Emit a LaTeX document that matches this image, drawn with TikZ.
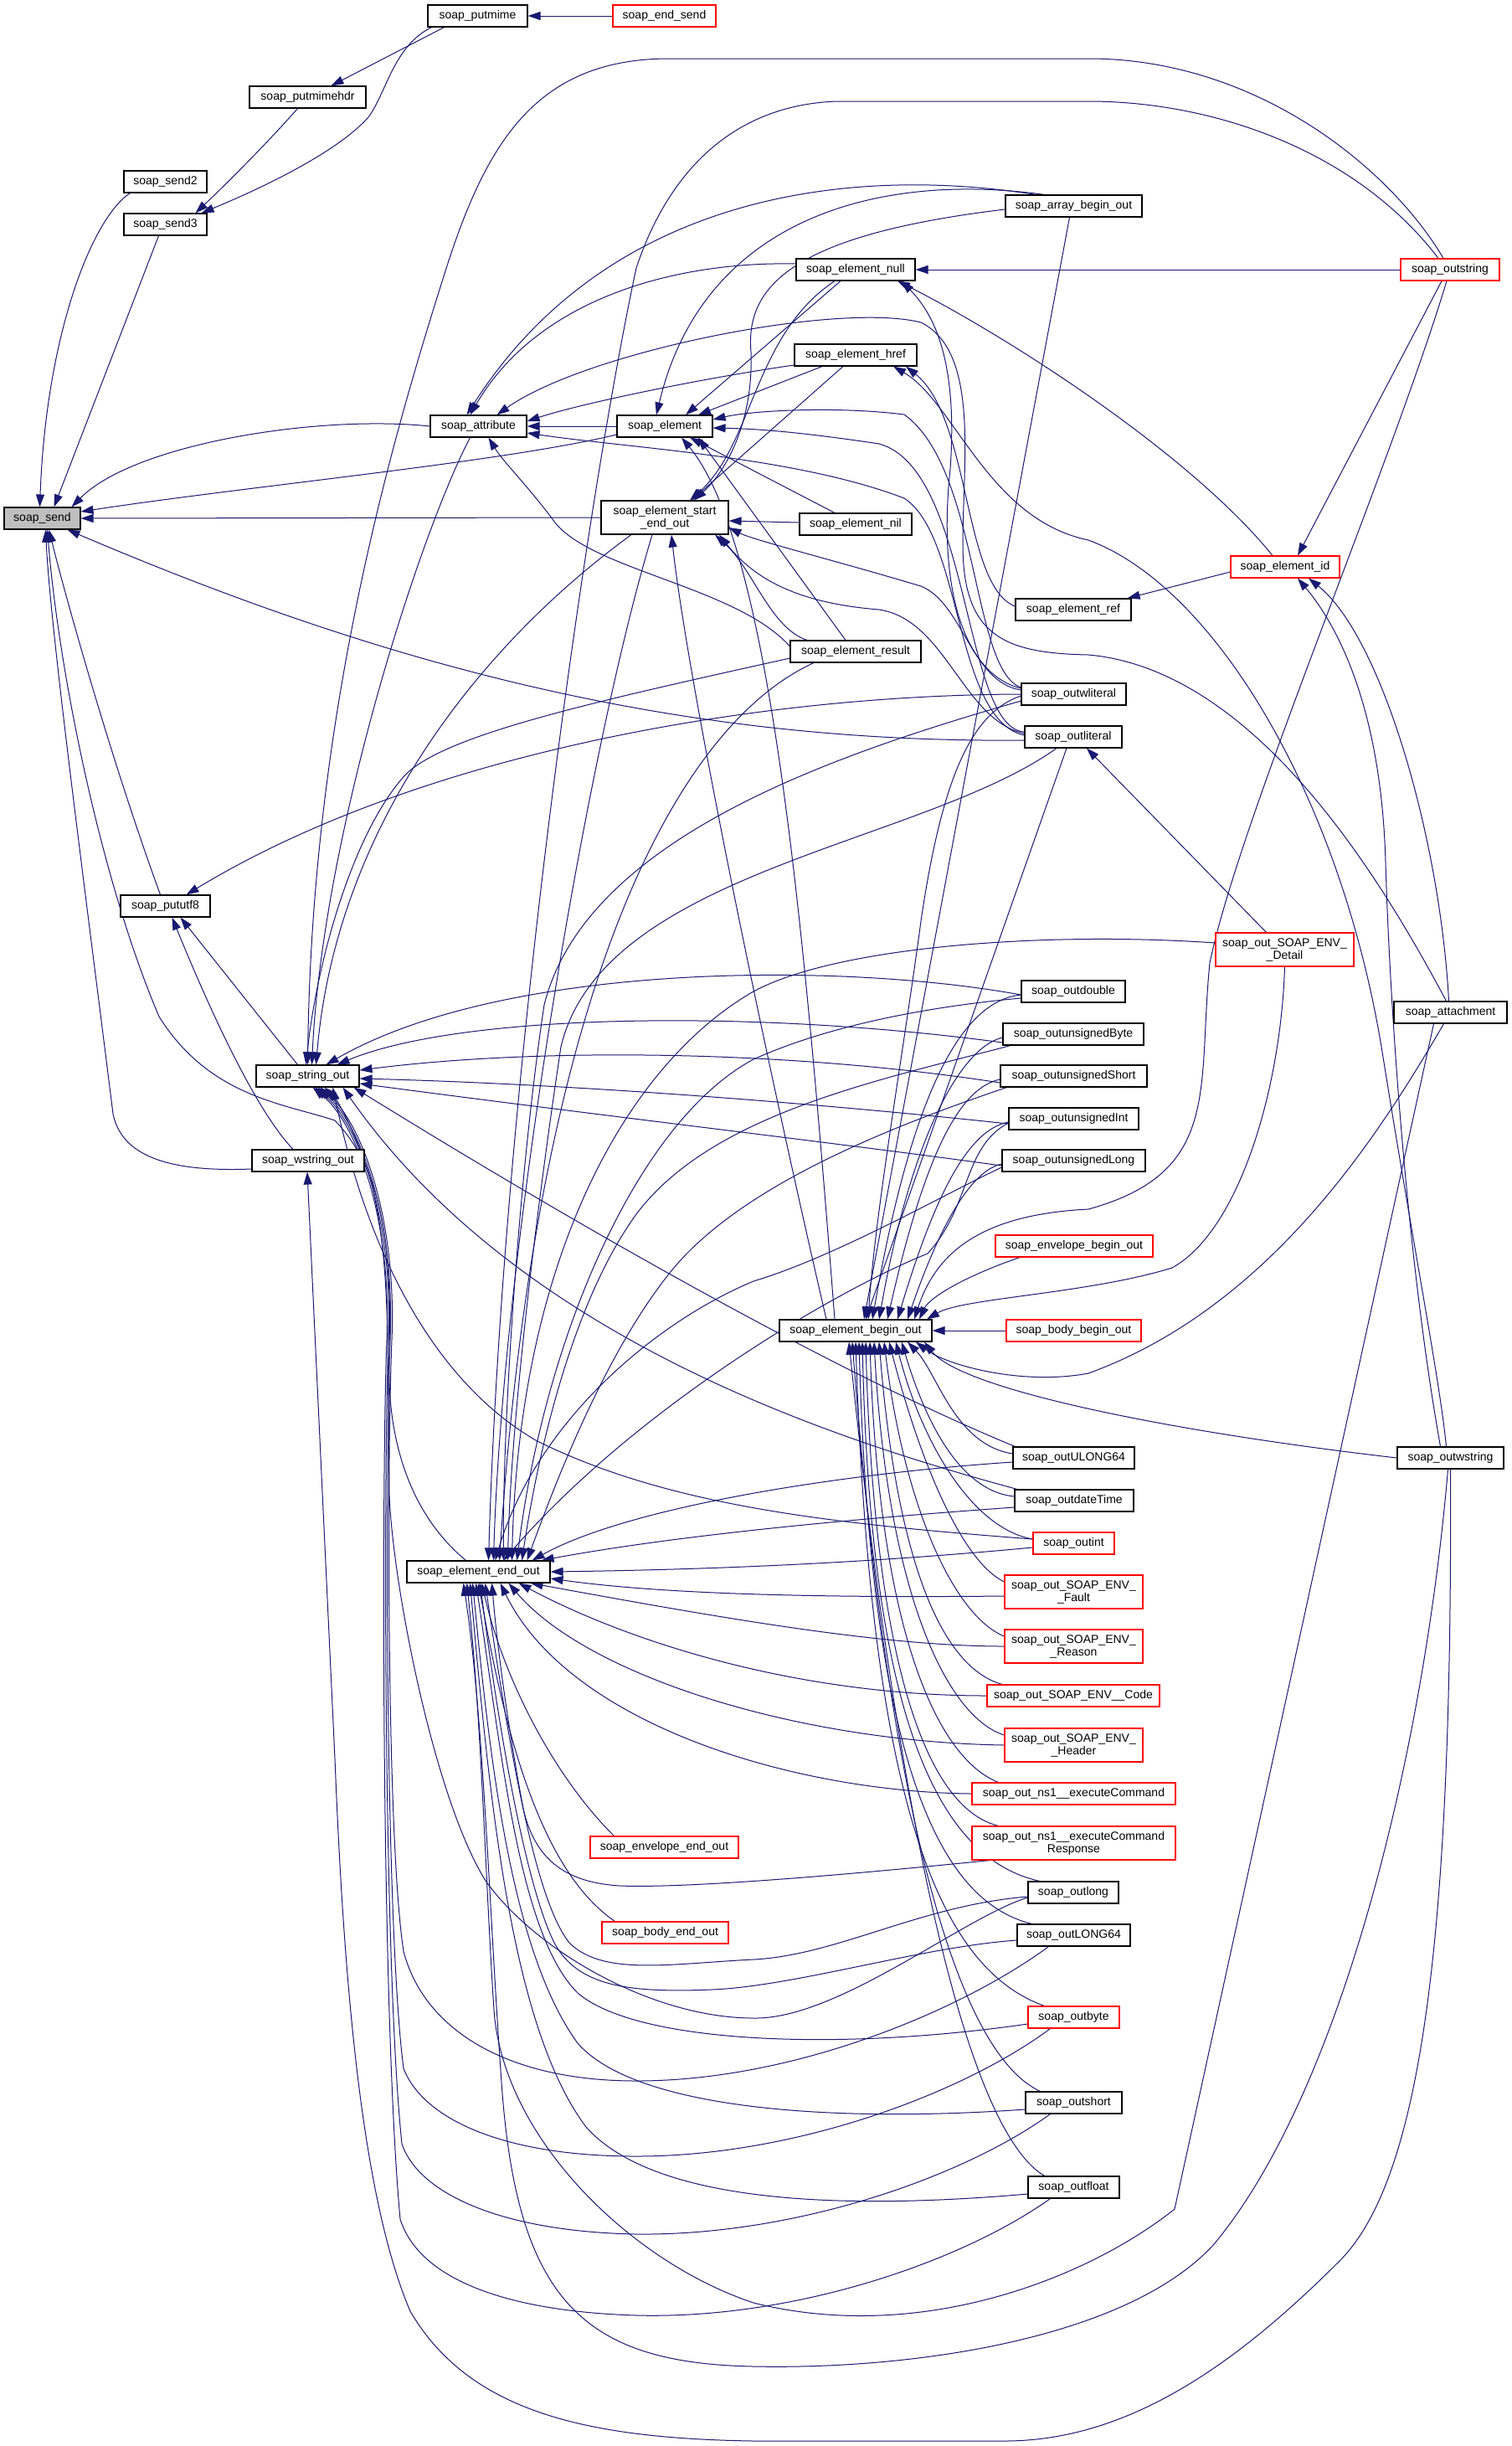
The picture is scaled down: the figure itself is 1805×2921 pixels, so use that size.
\documentclass[tikz,border=0pt]{standalone}
\usepackage{fontspec}
\setmainfont{Liberation Sans}
\usetikzlibrary{arrows.meta}
\definecolor{edgec}{HTML}{191970}
\definecolor{nodegray}{HTML}{BFBFBF}
\pgfdeclarelayer{back}
\pgfdeclarelayer{bg}
\pgfsetlayers{back,bg,main}
\tikzset{
  bx/.style={draw=black, line width=1.1pt, fill=white, rectangle, inner sep=0pt, minimum height=26pt, font=\fontsize{14}{15}\selectfont, align=center},
  bxr/.style={bx, draw=red},
  call/.style={draw=edgec, line width=1pt, -{Triangle[length=15pt,width=10pt]}}
}
\begin{document}
\begin{tikzpicture}[x=1pt,y=-1pt]
\begin{pgfonlayer}{back}
\fill[white] (0,0) rectangle (1805,2921);
\end{pgfonlayer}
\useasboundingbox (0,0) rectangle (1805,2921);

% ---------------- nodes ----------------
\node[bx,fill=nodegray,minimum width=91pt] (send) at (50.5,619) {soap\_send};
\node[bx,minimum width=99pt] (send2) at (197.5,217) {soap\_send2};
\node[bx,minimum width=99pt] (send3) at (197.5,268) {soap\_send3};
\node[bx,minimum width=107pt] (pututf8) at (197.5,1082) {soap\_pututf8};
\node[bx,minimum width=139pt] (putmimehdr) at (367.5,116) {soap\_putmimehdr};
\node[bx,minimum width=123pt] (stringout) at (367.5,1285) {soap\_string\_out};
\node[bx,minimum width=134pt] (wstringout) at (368,1386) {soap\_wstring\_out};
\node[bx,minimum width=119pt] (putmime) at (570.5,19) {soap\_putmime};
\node[bx,minimum width=115pt] (attribute) at (571.5,509) {soap\_attribute};
\node[bx,minimum width=171pt] (endout) at (571.5,1877) {soap\_element\_end\_out};
\node[bxr,minimum width=123pt] (endsend) at (793.5,19) {soap\_end\_send};
\node[bx,minimum width=114pt] (element) at (794,509) {soap\_element};
\node[bx,minimum width=152pt,minimum height=40pt] (startend) at (794,618) {soap\_element\_start\\\_end\_out};
\node[bxr,minimum width=177pt] (envend) at (793.5,2206) {soap\_envelope\_end\_out};
\node[bxr,minimum width=151pt] (bodyend) at (794.5,2308) {soap\_body\_end\_out};
\node[bx,minimum width=142pt] (null) at (1022,322) {soap\_element\_null};
\node[bx,minimum width=146pt] (href) at (1022,424) {soap\_element\_href};
\node[bx,minimum width=134pt] (nil) at (1022,626) {soap\_element\_nil};
\node[bx,minimum width=156pt] (result) at (1022,778) {soap\_element\_result};
\node[bx,minimum width=182pt] (beginout) at (1022,1589) {soap\_element\_begin\_out};
\node[bx,minimum width=163pt] (array) at (1282.5,246) {soap\_array\_begin\_out};
\node[bx,minimum width=138pt] (ref) at (1282,728) {soap\_element\_ref};
\node[bx,minimum width=125pt] (outwlit) at (1282.5,829) {soap\_outwliteral};
\node[bx,minimum width=116pt] (outlit) at (1282,880) {soap\_outliteral};
\node[bx,minimum width=124pt] (outdouble) at (1282,1184) {soap\_outdouble};
\node[bx,minimum width=168pt] (ubyte) at (1282,1235) {soap\_outunsignedByte};
\node[bx,minimum width=175pt] (ushort) at (1282.5,1285) {soap\_outunsignedShort};
\node[bx,minimum width=155pt] (uint) at (1282.5,1336) {soap\_outunsignedInt};
\node[bx,minimum width=171pt] (ulong) at (1282.5,1386) {soap\_outunsignedLong};
\node[bxr,minimum width=188pt] (envbegin) at (1283,1488) {soap\_envelope\_begin\_out};
\node[bxr,minimum width=161pt] (bodybegin) at (1282.5,1589) {soap\_body\_begin\_out};
\node[bx,minimum width=145pt] (ulong64) at (1282.5,1741) {soap\_outULONG64};
\node[bx,minimum width=142pt] (datetime) at (1283,1792) {soap\_outdateTime};
\node[bxr,minimum width=97pt] (outint) at (1282.5,1843) {soap\_outint};
\node[bxr,minimum width=165pt,minimum height=40pt] (fault) at (1282.5,1901) {soap\_out\_SOAP\_ENV\_\\\_Fault};
\node[bxr,minimum width=165pt,minimum height=40pt] (reason) at (1282.5,1966) {soap\_out\_SOAP\_ENV\_\\\_Reason};
\node[bxr,minimum width=206pt] (code) at (1282,2025) {soap\_out\_SOAP\_ENV\_\_Code};
\node[bxr,minimum width=165pt,minimum height=40pt] (header) at (1282.5,2084) {soap\_out\_SOAP\_ENV\_\\\_Header};
\node[bxr,minimum width=243pt] (nsexec) at (1282.5,2142) {soap\_out\_ns1\_\_executeCommand};
\node[bxr,minimum width=243pt,minimum height=40pt] (nsresp) at (1282.5,2201) {soap\_out\_ns1\_\_executeCommand\\Response};
\node[bx,minimum width=108pt] (outlong) at (1282,2260) {soap\_outlong};
\node[bx,minimum width=135pt] (outLONG64) at (1282.5,2311) {soap\_outLONG64};
\node[bxr,minimum width=109pt] (outbyte) at (1282.5,2409) {soap\_outbyte};
\node[bx,minimum width=115pt] (outshort) at (1282.5,2511) {soap\_outshort};
\node[bx,minimum width=109pt] (outfloat) at (1282.5,2612) {soap\_outfloat};
\node[bxr,minimum width=130pt] (elemid) at (1535,677) {soap\_element\_id};
\node[bxr,minimum width=165pt,minimum height=40pt] (detail) at (1534.5,1134) {soap\_out\_SOAP\_ENV\_\\\_Detail};
\node[bxr,minimum width=118pt] (outstring) at (1732,322) {soap\_outstring};
\node[bx,minimum width=135pt] (attachment) at (1732.5,1209) {soap\_attachment};
\node[bx,minimum width=127pt] (outwstring) at (1732.5,1741) {soap\_outwstring};

% ---------------- edges ----------------
\begin{pgfonlayer}{bg}
% top group
\draw[call] (endsend.west) -- (putmime.east);
\draw[call] ([xshift=-40pt]putmime.south) -- ([xshift=28pt]putmimehdr.north);
\draw[call] ([xshift=-55pt]putmime.south) .. controls (470,55) and (462,110) .. (440,140) .. controls (400,185) and (300,230) .. ([xshift=43pt]send3.north);
\draw[call] ([xshift=-12pt]putmimehdr.south) .. controls (320,170) and (270,220) .. ([xshift=36pt]send3.north);
\draw[call] ([xshift=-42pt]send2.south) .. controls (110,260) and (55,400) .. ([xshift=-3pt]send.north);
\draw[call] ([xshift=-8pt]send3.south) -- ([xshift=14pt]send.north);

% into soap_send
\draw[call] (attribute.west) .. controls (380,495) and (160,530) .. ([xshift=35pt]send.north);
\draw[call] ([yshift=-10pt]element.west) .. controls (600,552) and (300,580) .. ([yshift=8pt]send.east);
\draw[call] (startend.west) -- (send.east);
\draw[call] ([xshift=-6pt]pututf8.north) .. controls (130,900) and (75,700) .. ([xshift=8pt]send.south);
\draw[call] ([yshift=-10pt]wstringout.west) .. controls (200,1400) and (145,1380) .. (135,1330) .. controls (100,1050) and (60,750) .. ([xshift=4pt]send.south);
\draw[call] ([yshift=-4pt]outlit.west) .. controls (800,888) and (450,790) .. ([xshift=30pt]send.south);
\draw[call] ([xshift=-15pt]endout.north) .. controls (480,1800) and (462,1700) .. (465,1620) .. controls (468,1500) and (460,1400) .. (400,1338) .. controls (340,1318) and (250,1310) .. (190,1214) .. controls (120,1050) and (70,800) .. ([xshift=6pt]send.south);

% into soap_pututf8
\draw[call] ([xshift=-12pt]stringout.north) -- ([xshift=18pt]pututf8.south);
\draw[call] ([xshift=-18pt]wstringout.north) .. controls (300,1320) and (240,1180) .. ([xshift=8pt]pututf8.south);
\draw[call] (outwlit.west) .. controls (900,830) and (500,900) .. ([xshift=25pt]pututf8.north);

% into soap_string_out
\draw[call] ([xshift=-8pt]outstring.north) .. controls (1660,200) and (1500,70) .. (1300,70) -- (800,70) .. controls (640,70) and (580,170) .. (530,330) .. controls (470,520) and (372,850) .. (stringout.north);
\draw[call] ([xshift=-10pt]attribute.south) .. controls (500,640) and (385,1000) .. ([xshift=5pt]stringout.north);
\draw[call] ([xshift=-40pt]startend.south) .. controls (560,780) and (400,1000) .. ([xshift=10pt]stringout.north);
\draw[call] ([yshift=-8pt]result.west) .. controls (700,840) and (520,880) .. (480,930) .. controls (420,1000) and (378,1150) .. ([xshift=-2pt]stringout.north);
\draw[call] ([yshift=-4pt]outdouble.west) .. controls (1000,1148) and (600,1150) .. ([xshift=22pt]stringout.north);
\draw[call] ([yshift=-10pt]ubyte.west) .. controls (900,1205) and (550,1210) .. ([xshift=35pt]stringout.north);
\draw[call] ([yshift=-8pt]ushort.west) .. controls (950,1255) and (650,1250) .. ([yshift=7pt]stringout.east);
\draw[call] ([yshift=-6pt]uint.west) .. controls (1000,1320) and (700,1295) .. ([yshift=-3pt]stringout.east);
\draw[call] ([yshift=-6pt]ulong.west) .. controls (1000,1365) and (700,1330) .. ([yshift=-9pt]stringout.east);
\draw[call] ([xshift=-70pt]ulong64.north) .. controls (1000,1640) and (700,1470) .. ([xshift=55pt]stringout.south);
\draw[call] ([xshift=-68pt]datetime.north) .. controls (1000,1720) and (620,1600) .. ([xshift=42pt]stringout.south);
\draw[call] ([yshift=5pt]outint.west) .. controls (1000,1820) and (800,1800) .. (640,1720) .. controls (520,1650) and (440,1500) .. ([xshift=30pt]stringout.south);
\draw[call] ([yshift=-6pt]outlong.west) .. controls (1150,2290) and (1000,2412) .. (900,2410) .. controls (780,2410) and (640,2330) .. (580,2246) .. controls (520,2150) and (470,1900) .. (465,1786) .. controls (462,1650) and (470,1500) .. (440,1400) .. controls (420,1340) and (400,1310) .. ([xshift=20pt]stringout.south);
\draw[call] ([xshift=-30pt]outLONG64.south) .. controls (1150,2400) and (950,2485) .. (760,2485) .. controls (600,2485) and (505,2420) .. (482,2330) .. controls (462,2200) and (462,1750) .. (468,1600) .. controls (474,1450) and (430,1340) .. ([xshift=15pt]stringout.south);
\draw[call] ([xshift=-28pt]outbyte.south) .. controls (1150,2500) and (950,2575) .. (760,2575) .. controls (600,2575) and (505,2530) .. (482,2470) .. controls (460,2300) and (460,1750) .. (466,1600) .. controls (472,1450) and (428,1340) .. ([xshift=12pt]stringout.south);
\draw[call] ([xshift=-28pt]outshort.south) .. controls (1150,2600) and (950,2670) .. (760,2668) .. controls (600,2665) and (500,2620) .. (480,2560) .. controls (458,2350) and (458,1750) .. (464,1600) .. controls (470,1450) and (426,1340) .. ([xshift=9pt]stringout.south);
\draw[call] ([xshift=-28pt]outfloat.south) .. controls (1150,2700) and (950,2770) .. (760,2765) .. controls (600,2760) and (500,2720) .. (478,2650) .. controls (455,2400) and (456,1750) .. (462,1600) .. controls (468,1450) and (424,1340) .. ([xshift=6pt]stringout.south);

% into soap_wstring_out
\draw[call] (outwstring.south) .. controls (1735,2300) and (1700,2600) .. (1600,2700) .. controls (1480,2820) and (1350,2915) .. (1200,2915) -- (900,2915) .. controls (700,2912) and (560,2880) .. (490,2760) .. controls (430,2620) and (410,2350) .. (400,2100) -- ([xshift=-1pt]wstringout.south);

% into soap_attribute
\draw[call] (element.west) -- (attribute.east);
\draw[call] ([yshift=7pt]null.west) .. controls (800,312) and (640,360) .. ([xshift=-10pt]attribute.north);
\draw[call] ([xshift=-45pt]array.north) .. controls (1000,195) and (720,240) .. ([xshift=-14pt]attribute.north);
\draw[call] ([yshift=-12pt]href.west) .. controls (850,450) and (700,480) .. ([yshift=6pt]attribute.east);
\draw[call] ([xshift=-5pt]attachment.north) .. controls (1650,1050) and (1500,800) .. (1300,782) .. controls (1200,780) and (1150,760) .. (1150,650) .. controls (1150,550) and (1170,420) .. (1100,385) .. controls (1000,360) and (700,420) .. ([xshift=22pt]attribute.north);
\draw[call] ([yshift=2pt]outlit.west) .. controls (1140,860) and (1150,640) .. (1080,595) .. controls (950,545) and (750,535) .. ([yshift=-8pt]attribute.east);
\draw[call] ([yshift=6pt]result.west) .. controls (880,700) and (700,680) .. (660,620) .. controls (630,580) and (600,550) .. ([xshift=12pt]attribute.south);

% into soap_element
\draw[call] ([xshift=-35pt]array.north) .. controls (1050,205) and (840,260) .. ([xshift=-10pt]element.north);
\draw[call] ([xshift=-18pt]null.south) -- ([xshift=25pt]element.north);
\draw[call] ([xshift=-40pt]href.south) -- ([xshift=40pt]element.north);
\draw[call] ([xshift=-25pt]nil.north) -- ([xshift=30pt]element.south);
\draw[call] ([xshift=-12pt]result.north) -- ([xshift=40pt]element.south);
\draw[call] ([yshift=8pt]outwlit.west) .. controls (1160,800) and (1170,560) .. (1080,495) .. controls (1000,485) and (900,490) .. ([yshift=8pt]element.east);
\draw[call] ([yshift=6pt]outlit.west) .. controls (1150,870) and (1160,560) .. (1050,530) .. controls (950,515) and (900,512) .. ([yshift=-2pt]element.east);
\draw[call] ([xshift=-25pt]beginout.north) .. controls (960,1100) and (920,650) .. ([xshift=20pt]element.south);

% into soap_element_start_end_out
\draw[call] ([xshift=-25pt]null.south) .. controls (900,400) and (900,530) .. ([xshift=30pt]startend.north);
\draw[call] ([yshift=-4pt]array.west) .. controls (950,280) and (890,340) .. (897,420) .. controls (900,500) and (870,560) .. ([xshift=35pt]startend.north);
\draw[call] ([xshift=-15pt]href.south) -- ([xshift=32pt]startend.north);
\draw[call] ([yshift=2pt]nil.west) -- ([yshift=-4pt]startend.east);
\draw[call] ([xshift=-58pt]result.north) .. controls (920,750) and (900,680) .. ([xshift=60pt]startend.south);
\draw[call] ([yshift=5pt]outwlit.west) .. controls (1160,815) and (1150,720) .. (1100,700) .. controls (1000,670) and (900,645) .. ([yshift=-12pt]startend.east);
\draw[call] ([yshift=4pt]outlit.west) .. controls (1150,860) and (1130,740) .. (1050,728) .. controls (950,720) and (900,690) .. ([xshift=65pt]startend.south);
\draw[call] ([xshift=-35pt]beginout.north) .. controls (900,1200) and (820,800) .. ([xshift=8pt]startend.south);

% element_null / href / id / ref
\draw[call] ([xshift=-15pt]elemid.north) .. controls (1420,540) and (1200,400) .. ([xshift=50pt]null.south);
\draw[call] (outstring.west) -- (null.east);
\draw[call] ([yshift=7pt]outwlit.west) .. controls (1150,805) and (1120,700) .. (1135,560) .. controls (1145,420) and (1110,370) .. ([xshift=55pt]null.south);
\draw[call] ([yshift=-6pt]elemid.west) -- ([xshift=-5pt]ref.north east);
\draw[call] ([yshift=4pt]ref.west) .. controls (1150,700) and (1160,500) .. ([xshift=60pt]href.south);
\draw[call] ([xshift=-5pt]outwstring.north) .. controls (1720,1650) and (1690,1500) .. (1650,1250) .. controls (1600,950) and (1450,700) .. (1300,645) .. controls (1180,620) and (1140,480) .. ([xshift=45pt]href.south);
\draw[call] ([xshift=-12pt]outwstring.north) .. controls (1680,1500) and (1660,1200) .. (1655,1030) .. controls (1650,850) and (1600,750) .. ([xshift=15pt]elemid.south);
\draw[call] ([xshift=-2pt]attachment.north) .. controls (1720,1000) and (1650,760) .. ([xshift=28pt]elemid.south);
\draw[call] ([xshift=-10pt]outstring.south) -- ([xshift=15pt]elemid.north);
\draw[call] ([xshift=-22pt]detail.north) -- ([xshift=16pt]outlit.south);

% into soap_element_begin_out
\draw[call] ([xshift=-5pt]array.south) -- ([xshift=10pt]beginout.north);
\draw[call] ([yshift=-2pt]outwlit.west) .. controls (1160,851) and (1125,930) .. (1100,1100) .. controls (1080,1250) and (1045,1450) .. ([xshift=15pt]beginout.north);
\draw[call] ([xshift=-8pt]outlit.south) -- ([xshift=12pt]beginout.north);
\draw[call] ([yshift=-4pt]outdouble.west) .. controls (1150,1195) and (1090,1300) .. ([xshift=20pt]beginout.north);
\draw[call] ([yshift=-4pt]ubyte.west) .. controls (1150,1250) and (1090,1350) .. ([xshift=28pt]beginout.north);
\draw[call] ([yshift=-4pt]ushort.west) .. controls (1140,1300) and (1100,1400) .. ([xshift=38pt]beginout.north);
\draw[call] ([yshift=-4pt]uint.west) .. controls (1150,1350) and (1110,1450) .. ([xshift=50pt]beginout.north);
\draw[call] ([yshift=-4pt]ulong.west) .. controls (1150,1400) and (1110,1500) .. ([xshift=62pt]beginout.north);
\draw[call] ([xshift=-65pt]envbegin.south) .. controls (1150,1525) and (1110,1550) .. ([xshift=76pt]beginout.north);
\draw[call] (bodybegin.west) -- (beginout.east);
\draw[call] ([xshift=-4pt]outstring.south) .. controls (1660,560) and (1480,980) .. (1445,1150) .. controls (1430,1300) and (1460,1400) .. (1300,1444) .. controls (1180,1450) and (1120,1490) .. ([xshift=70pt]beginout.north);
\draw[call] (detail.south) .. controls (1530,1300) and (1480,1470) .. (1400,1514) .. controls (1300,1545) and (1150,1550) .. ([xshift=85pt]beginout.north);
\draw[call] ([xshift=-8pt]attachment.south) .. controls (1650,1350) and (1520,1560) .. (1300,1640) .. controls (1220,1655) and (1130,1630) .. ([xshift=72pt]beginout.south);
\draw[call] (outwstring.west) .. controls (1400,1710) and (1150,1660) .. ([xshift=82pt]beginout.south);
\draw[call] ([yshift=5pt]ulong64.west) .. controls (1140,1725) and (1120,1640) .. ([xshift=62pt]beginout.south);
\draw[call] ([yshift=5pt]datetime.west) .. controls (1140,1780) and (1100,1680) .. ([xshift=55pt]beginout.south);
\draw[call] ([yshift=5pt]outint.west) .. controls (1160,1825) and (1100,1720) .. ([xshift=48pt]beginout.south);
\draw[call] ([yshift=12pt]fault.west) .. controls (1150,1865) and (1100,1750) .. ([xshift=40pt]beginout.south);
\draw[call] ([yshift=12pt]reason.west) .. controls (1140,1930) and (1080,1800) .. ([xshift=34pt]beginout.south);
\draw[call] ([xshift=-85pt]code.north) .. controls (1120,1990) and (1070,1850) .. ([xshift=28pt]beginout.south);
\draw[call] ([yshift=12pt]header.west) .. controls (1130,2050) and (1060,1900) .. ([xshift=22pt]beginout.south);
\draw[call] ([xshift=-90pt]nsexec.north) .. controls (1120,2100) and (1050,1950) .. ([xshift=17pt]beginout.south);
\draw[call] ([xshift=-90pt]nsresp.north) .. controls (1110,2160) and (1045,2000) .. ([xshift=12pt]beginout.south);
\draw[call] ([xshift=-40pt]outlong.north) .. controls (1120,2220) and (1040,2050) .. ([xshift=8pt]beginout.south);
\draw[call] ([xshift=-50pt]outLONG64.north) .. controls (1120,2270) and (1040,2100) .. ([xshift=4pt]beginout.south);
\draw[call] ([xshift=-35pt]outbyte.north) .. controls (1120,2350) and (1040,2150) .. ([xshift=0pt]beginout.south);
\draw[call] ([xshift=-40pt]outshort.north) .. controls (1140,2450) and (1060,2150) .. ([xshift=-4pt]beginout.south);
\draw[call] ([xshift=-35pt]outfloat.north) .. controls (1150,2540) and (1070,2150) .. ([xshift=-8pt]beginout.south);

% into soap_element_end_out (from above)
\draw[call] ([xshift=-14pt]outstring.north) .. controls (1620,180) and (1450,121) .. (1300,121) -- (1000,121) .. controls (880,125) and (800,200) .. (760,320) .. controls (700,600) and (600,1300) .. ([xshift=12pt]endout.north);
\draw[call] ([xshift=-15pt]startend.south) .. controls (700,900) and (600,1500) .. ([xshift=18pt]endout.north);
\draw[call] ([xshift=-50pt]result.south) .. controls (800,870) and (640,1200) .. ([xshift=25pt]endout.north);
\draw[call] ([yshift=-8pt]outwlit.west) .. controls (1000,900) and (700,1000) .. (650,1200) .. controls (620,1400) and (600,1700) .. ([xshift=30pt]endout.north);
\draw[call] ([xshift=-20pt]outlit.south) .. controls (1100,1009) and (720,1040) .. (670,1250) .. controls (640,1450) and (610,1700) .. ([xshift=35pt]endout.north);
\draw[call] ([yshift=8pt]detail.west) .. controls (1250,1112) and (1000,1130) .. (900,1184) .. controls (750,1270) and (620,1500) .. ([xshift=40pt]endout.north);
\draw[call] ([yshift=-8pt]outdouble.west) .. controls (1130,1200) and (1000,1220) .. (900,1265) .. controls (760,1340) and (650,1600) .. ([xshift=46pt]endout.north);
\draw[call] ([xshift=-75pt]ubyte.south) .. controls (1050,1290) and (850,1330) .. (760,1450) .. controls (680,1560) and (640,1750) .. ([xshift=52pt]endout.north);
\draw[call] ([xshift=-80pt]ushort.south) .. controls (1050,1350) and (880,1420) .. (800,1520) .. controls (720,1620) and (660,1780) .. ([xshift=58pt]endout.north);
\draw[call] ([yshift=-5pt]uint.west) .. controls (1150,1370) and (1160,1440) .. (1108,1497) .. controls (1000,1540) and (760,1680) .. ([xshift=30pt]endout.north);
\draw[call] ([yshift=-8pt]ulong.west) .. controls (1130,1425) and (1000,1500) .. (900,1530) .. controls (780,1580) and (640,1700) .. ([xshift=20pt]endout.north);
% into soap_element_end_out (from the right)
\draw[call] ([yshift=-5pt]ulong64.west) .. controls (1000,1760) and (750,1800) .. ([xshift=64pt]endout.north);
\draw[call] ([yshift=-8pt]datetime.west) .. controls (1000,1815) and (800,1835) .. ([xshift=75pt]endout.north);
\draw[call] ([yshift=-5pt]outint.west) .. controls (1000,1870) and (800,1875) .. (endout.east);
\draw[call] ([yshift=-5pt]fault.west) .. controls (1000,1908) and (800,1905) .. ([yshift=-8pt]endout.east);
\draw[call] (reason.west) .. controls (1050,1966) and (850,1930) .. ([xshift=62pt]endout.south);
\draw[call] (code.west) .. controls (950,2025) and (750,1960) .. ([xshift=48pt]endout.south);
\draw[call] (header.west) .. controls (950,2080) and (700,2000) .. ([xshift=36pt]endout.south);
\draw[call] (nsexec.west) .. controls (950,2140) and (680,2060) .. ([xshift=26pt]endout.south);
\draw[call] ([xshift=-100pt]nsresp.south) .. controls (1000,2240) and (820,2255) .. (740,2252) .. controls (680,2248) and (640,2225) .. (625,2160) .. controls (610,2080) and (595,1980) .. ([xshift=16pt]endout.south);
% into soap_element_end_out (from below)
\draw[call] ([yshift=-5pt]outlong.west) .. controls (1100,2275) and (1000,2335) .. (900,2340) .. controls (800,2345) and (720,2360) .. (680,2320) .. controls (640,2270) and (610,2100) .. ([xshift=8pt]endout.south);
\draw[call] ([yshift=-6pt]outLONG64.west) .. controls (1100,2325) and (950,2372) .. (850,2376) .. controls (750,2380) and (690,2372) .. (662,2320) .. controls (632,2260) and (600,2100) .. ([xshift=2pt]endout.south);
\draw[call] ([yshift=-8pt]outbyte.west) .. controls (1000,2450) and (760,2440) .. (690,2380) .. controls (620,2310) and (600,2100) .. ([xshift=-3pt]endout.south);
\draw[call] ([yshift=-8pt]outshort.west) .. controls (1000,2535) and (760,2520) .. (690,2440) .. controls (610,2330) and (585,2100) .. ([xshift=-7pt]endout.south);
\draw[call] ([yshift=-8pt]outfloat.west) .. controls (1000,2640) and (780,2630) .. (700,2540) .. controls (610,2420) and (585,2150) .. ([xshift=-10pt]endout.south);
\draw[call] ([xshift=-60pt]envend.north) .. controls (660,2120) and (600,2000) .. ([xshift=4pt]endout.south);
\draw[call] ([xshift=-60pt]bodyend.north) .. controls (640,2230) and (600,2050) .. ([xshift=0pt]endout.south);
\draw[call] ([xshift=-20pt]attachment.south) -- (1403,2638) .. controls (1300,2720) and (1100,2800) .. (900,2750) .. controls (750,2700) and (600,2550) .. (590,2400) .. controls (580,2250) and (575,2050) .. ([xshift=-14pt]endout.south);
\draw[call] ([xshift=-3pt]outwstring.south) .. controls (1700,2100) and (1600,2500) .. (1450,2680) .. controls (1350,2790) and (1100,2830) .. (900,2826) .. controls (700,2822) and (620,2750) .. (600,2500) .. controls (585,2300) and (578,2050) .. ([xshift=-18pt]endout.south);
\end{pgfonlayer}
\end{tikzpicture}
\end{document}
